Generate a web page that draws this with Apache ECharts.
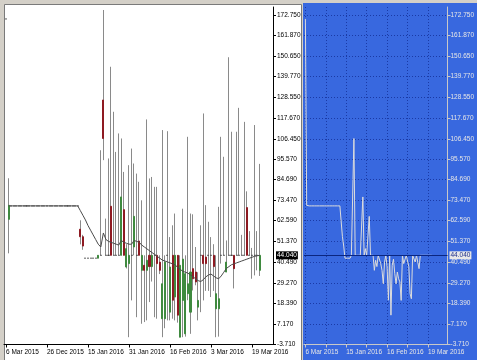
<!DOCTYPE html>
<html><head><meta charset="utf-8">
<script src="https://cdn.jsdelivr.net/npm/echarts@6/dist/echarts.min.js"></script>
<style>html,body{margin:0;padding:0;background:#d4d0c8;}#c{width:477px;height:360px;}</style>
</head><body><div id="c"></div>
<script>
const openVals = [170.6,63.3,
70.5,70.5,70.5,70.5,70.5,70.5,70.5,70.5,70.5,70.5,70.5,70.5,70.5,70.5,70.5,70.5,70.5,70.5,70.5,70.5,70.5,70.5,70.5,70.5,70.5,70.5,70.5,
58,54,42.5,42.5,42.5,42.5,42.5,42.5,
44.04,127.2,44.04,44.04,70.3,44.04,44.04,44.04,44.04,68.5,
37.8,39.6,44.04,48.5,44.04,51.7,36,38.7,36,44.04,
38,44.04,44.04,40.4,10.1,10.1,44.04,13.6,44.04,21.7,
44.04,0.2,19.9,2,23.5,13.6,36.9,35.1,16.3,44.04,
44.04,43.1,44.04,44.04,44.04,15.4,15.4,44.04,44.04,35.1,
44.04,44.04,44.04,44.04,44.04,44.04,44.04,69.6,44.04,44.04,
44.04,44.04,36];
const closeVals = [170.6,70.8,
70.5,70.5,70.5,70.5,70.5,70.5,70.5,70.5,70.5,70.5,70.5,70.5,70.5,70.5,70.5,70.5,70.5,70.5,70.5,70.5,70.5,70.5,70.5,70.5,70.5,70.5,70.5,
54,49,42.5,42.5,42.5,42.5,42.5,44.04,
44.04,106.6,44.04,44.04,44.04,44.04,44.04,44.04,75.3,44.04,
47.6,44.04,44.04,64.9,44.04,44.04,44.04,36,41.4,38,
44.04,44.04,39.6,36,28.8,40.4,44.04,37.8,20,44.04,
12,38.7,42,34.2,28.8,35.1,31.5,29.8,19.9,44.04,
39.6,39.6,44.04,44.04,38,23.5,20.8,44.04,44.04,40.4,
44.04,44.04,36.9,44.04,44.04,44.04,44.04,44.04,44.04,44.04,
44.04,44.04,44.04];
const lowVals = [170.6,45.1,
70.5,70.5,70.5,70.5,70.5,70.5,70.5,70.5,70.5,70.5,70.5,70.5,70.5,70.5,70.5,70.5,70.5,70.5,70.5,70.5,70.5,70.5,70.5,70.5,70.5,70.5,70.5,
49.9,47,42.5,42.5,42.5,42.5,42.5,42.5,
44.04,95,44.04,44.04,44.04,44.04,44.04,44.04,44.04,44.04,
37,0.2,19.9,44.04,10.9,44.04,7.4,8.3,9.2,19,
30,10.9,10.1,34,0.2,5,9.2,9.2,10.1,9.2,
8,0.2,0.2,0.5,20,2,25.2,28,9.2,13.6,
19.9,25,25,21.7,25,0.2,0.5,39.6,44.04,35,
44.04,44.04,26.3,44.04,44.04,44.04,44.04,44.04,44.04,31.5,
33.3,36,33];
const highVals = [170.6,85.3,
70.5,70.5,70.5,70.5,70.5,70.5,70.5,70.5,70.5,70.5,70.5,70.5,70.5,70.5,70.5,70.5,70.5,70.5,70.5,70.5,70.5,70.5,70.5,70.5,70.5,70.5,70.5,
62.8,55,42.5,42.5,42.5,42.5,42.5,44.04,
100.3,175.4,63.7,95.9,145,120.9,99.4,109.3,106.6,88.7,
50,92.3,101.2,93.2,87.8,83.4,73.5,44.04,116.8,85.2,
86,80.7,80.7,44.04,111.1,44.04,110.5,53.8,60.1,66.4,
44.04,44.04,69,44.04,107.5,66.4,66,48.5,35,60.1,
120,70.9,62,53.8,50,44.04,70,107.5,96.8,52,
150.1,110.2,44.04,110.2,123,55,115.5,78.3,57,48,
113.8,57,93];
const maVals = [null,
70.5,70.5,70.5,70.5,70.5,70.5,70.5,70.5,70.5,70.5,70.5,70.5,70.5,70.5,70.5,70.5,70.5,70.5,70.5,70.5,70.5,70.5,70.5,70.5,70.5,70.5,70.5,70.5,
68,65.5,63,60,57.5,55,52.5,50,48.5,56,52.5,
51.5,51,50.5,50,49.5,52,51,50.5,50,50,
52,51.5,51,49.5,48.5,47.5,46.5,45.5,44.5,43.5,
42.5,41.5,41,40.5,40,39.5,39,37.5,36.5,35.5,
35,34.5,33.5,32.5,31.5,30.5,30,31,32.5,33.5,
34,33,32,31.5,33,35,37,38,39,39.5,
40,40.5,41,41.5,42,42.5,43,43.5,43.8,44];
const yTickValues = [-3.71,7.17,18.39,29.27,40.49,51.37,62.59,73.47,84.69,95.57,106.45,117.67,128.55,139.77,150.65,161.87,172.75];
const dateLabels = ['6 Mar 2015','26 Dec 2015','15 Jan 2016','31 Jan 2016','16 Feb 2016','3 Mar 2016','19 Mar 2016'];
const dateLabelIndex = [0,16,32,48,64,80,96];
const rightLabelIndex = [0,32,64,96];
const rightGridIndex = [0,16,32,48,64,80,96];
const bidPrice = 44.04;

const FONT = '"Liberation Sans Narrow","Liberation Sans",Arial,sans-serif';
const FS = 6.5;
const dateOf = v => dateLabels[dateLabelIndex.indexOf(v)] || '';

const wickData = openVals.map((o, i) => [i, o, closeVals[i], lowVals[i], highVals[i]]);
const bodyData = openVals.map((o, i) => [i, o, closeVals[i], Math.min(o, closeVals[i]), Math.max(o, closeVals[i])]);
const maData = maVals.map((v, i) => [i, v]);
const lineData = closeVals.map((v, i) => [i, v]);

const chart = echarts.init(document.getElementById('c'), null, {renderer: 'canvas'});
chart.setOption({
  animation: false,
  graphic: [
    {type: 'rect', z: -100, silent: true, shape: {x: 0, y: 0, width: 477, height: 360}, style: {fill: '#d4d0c8'}},
    {type: 'rect', z: -99, silent: true, shape: {x: 4.5, y: 4.5, width: 297, height: 360}, style: {fill: '#ffffff', stroke: '#7a7a7a', lineWidth: 1}},
    {type: 'rect', z: -99, silent: true, shape: {x: 303, y: 3, width: 174, height: 357}, style: {fill: '#3868df'}}
  ],
  grid: [
    {left: 4, top: 7, width: 269, height: 337.5},
    {left: 304, top: 7, width: 145, height: 337.5}
  ],
  xAxis: [
    {gridIndex: 0, type: 'value', min: -0.78, max: 104.2, position: 'bottom',
     axisLine: {show: true, onZero: false, lineStyle: {color: '#000', width: 1}},
     axisTick: {show: true, customValues: dateLabelIndex, length: 3, lineStyle: {color: '#000'}},
     axisLabel: {customValues: dateLabelIndex, formatter: dateOf, align: 'left', margin: 4, color: '#000', fontSize: FS, fontFamily: FONT},
     splitLine: {show: false}},
    {gridIndex: 1, type: 'value', min: -1.1, max: 111.3, position: 'bottom',
     axisLine: {show: true, onZero: false, lineStyle: {color: '#c8c8c8', width: 1}},
     axisTick: {show: true, customValues: rightGridIndex, length: 3, lineStyle: {color: '#c8c8c8'}},
     axisLabel: {customValues: rightLabelIndex, formatter: dateOf, align: 'left', margin: 4, color: '#e6e6e6', fontSize: FS, fontFamily: FONT},
     splitLine: {show: true, lineStyle: {color: '#1a3aa6', type: [1, 2], width: 1}}}
  ],
  yAxis: [
    {gridIndex: 0, type: 'value', position: 'right', min: -3.71, max: 177,
     axisLine: {show: true, onZero: false, lineStyle: {color: '#000', width: 1}},
     axisTick: {show: true, customValues: yTickValues, length: 3, lineStyle: {color: '#000'}},
     axisLabel: {customValues: yTickValues, formatter: v => v.toFixed(3), margin: 4, color: '#000', fontSize: FS, fontFamily: FONT},
     splitLine: {show: false}},
    {gridIndex: 1, type: 'value', position: 'right', min: -3.71, max: 177,
     axisLine: {show: true, onZero: false, lineStyle: {color: '#c8c8c8', width: 1}},
     axisTick: {show: true, customValues: yTickValues, length: 3, lineStyle: {color: '#c8c8c8'}},
     axisLabel: {customValues: yTickValues, formatter: v => v.toFixed(3), margin: 3, color: '#e6e6e6', fontSize: FS, fontFamily: FONT},
     splitLine: {show: true, lineStyle: {color: '#1a3aa6', type: [1, 2], width: 1}}}
  ],
  series: [
    {type: 'candlestick', xAxisIndex: 0, yAxisIndex: 0, data: wickData, barWidth: 0.01,
     itemStyle: {color: '#888', color0: '#888', borderColor: '#8a8a8a', borderColor0: '#8a8a8a', borderColorDoji: '#8a8a8a', borderWidth: 1}},
    {type: 'candlestick', xAxisIndex: 0, yAxisIndex: 0, data: bodyData, barWidth: 1.6, z: 3,
     itemStyle: {color: '#3f8a3f', color0: '#8e1a22', borderColor: '#3f8a3f', borderColor0: '#8e1a22', borderColorDoji: '#444', borderWidth: 1},
     markLine: {silent: true, symbol: 'none', data: [{yAxis: bidPrice}],
       lineStyle: {color: 'rgba(0,0,0,0)', width: 0},
       label: {show: true, position: 'end', distance: 3, formatter: bidPrice.toFixed(3), color: '#fff', backgroundColor: '#000', padding: [1, 1, 0, 1], fontSize: FS, fontFamily: FONT}}},
    {type: 'line', xAxisIndex: 0, yAxisIndex: 0, data: maData, symbol: 'none', z: 4,
     lineStyle: {color: '#4a4a4a', width: 1}},
    {type: 'line', xAxisIndex: 1, yAxisIndex: 1, data: lineData, symbol: 'none',
     lineStyle: {color: '#dcdcdc', width: 1},
     markLine: {silent: true, symbol: 'none', data: [{yAxis: bidPrice}],
       lineStyle: {color: '#0b2680', width: 1, type: 'solid'},
       label: {show: true, position: 'end', distance: 2, formatter: bidPrice.toFixed(3), color: '#1a2d8a', backgroundColor: '#e8e8e8', padding: [1, 1, 0, 1], fontSize: FS, fontFamily: FONT}}}
  ]
});
</script></body></html>
